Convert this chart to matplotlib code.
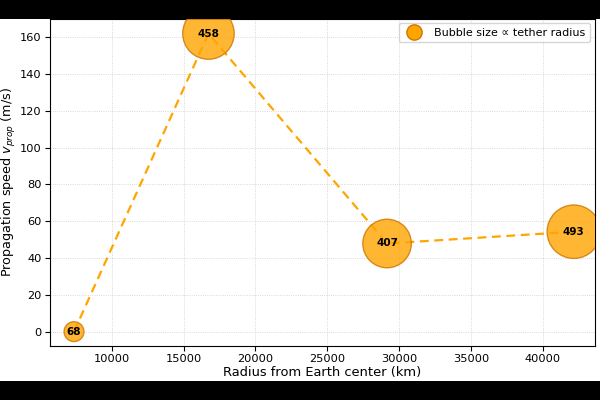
import matplotlib
matplotlib.use("Agg")
import matplotlib.pyplot as plt
from matplotlib.lines import Line2D
from matplotlib.patches import Rectangle

# data
radius_km = [7378, 16736, 29167, 42164]
v_prop = [0.0, 162.0, 47.9, 54.3]
tether_radius = [68, 458, 407, 493]

fig = plt.figure(figsize=(6, 4), dpi=100, facecolor="white")
# black letterbox bars top and bottom
for y0, h in [(0, 0.047), (0.953, 0.047)]:
    fig.patches.append(Rectangle((0, y0), 1, h, transform=fig.transFigure,
                                 facecolor="black", edgecolor="none", zorder=-1))

ax = fig.add_axes([0.083, 0.135, 0.908, 0.818])

ax.plot(radius_km, v_prop, linestyle="--", color="#FFA500", lw=1.6,
        dashes=(4, 2.5), zorder=2)
ax.scatter(radius_km, v_prop, s=[r * 3 for r in tether_radius],
           color="#FFA500", alpha=0.8, edgecolors="#CC7700", linewidths=1, zorder=3)

for x, y, r in zip(radius_km, v_prop, tether_radius):
    ax.text(x, y, str(r), ha="center", va="center", fontsize=7.5,
            fontweight="bold", color="black", zorder=4)

ax.set_xlim(5694, 43611)
ax.set_ylim(-7.8, 170)
ax.set_xlabel("Radius from Earth center (km)", fontsize=9.4, labelpad=1.5)
ax.set_ylabel("Propagation speed $v_{prop}$ (m/s)", fontsize=9.2, labelpad=1)
ax.tick_params(labelsize=8.2, pad=2.5)
ax.grid(True, linestyle=":", color="#cccccc", lw=0.6)

handle = Line2D([], [], marker="o", linestyle="none", markersize=11,
                markerfacecolor="#FFA500", markeredgecolor="#CC7700")
ax.legend([handle], ["Bubble size \u221d tether radius"], loc="upper right",
          fontsize=8, handletextpad=0.8, borderaxespad=0.4)

fig.savefig("out.png", dpi=100)
